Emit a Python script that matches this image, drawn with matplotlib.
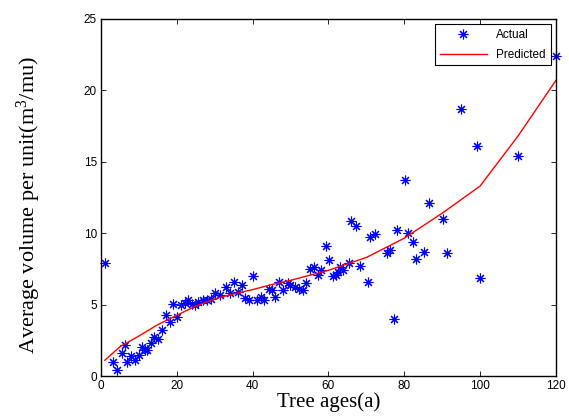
import numpy as np
import matplotlib
matplotlib.use("Agg")
import matplotlib.pyplot as plt

plt.rcParams["mathtext.fontset"] = "custom"
plt.rcParams["mathtext.rm"] = "Liberation Serif"
plt.rcParams["mathtext.default"] = "rm"

ages = [1.0, 3.1, 4.1, 5.5, 6.2, 6.9, 7.8, 9.0, 10.1, 10.7, 11.6, 12.2, 13.2, 14.1,
        15.1, 16.0, 17.2, 18.2, 19.1, 20.1, 21.0, 22.2, 23.0, 23.9, 24.8, 25.7,
        26.8, 27.9, 28.9, 30.1, 31.4, 33.0, 33.9, 35.1, 36.2, 37.1, 38.0, 39.1,
        40.0, 41.1, 42.2, 43.0, 44.4, 45.0, 45.9, 47.0, 47.9, 49.2, 49.9, 51.2,
        52.3, 53.2, 54.1, 55.2, 56.1, 57.3, 58.0, 59.3, 60.2, 61.1, 62.0, 62.6,
        63.1, 63.9, 65.3, 65.9, 67.3, 68.2, 70.3, 71.0, 72.3, 75.4, 76.3, 77.3,
        78.0, 80.2, 80.9, 82.2, 83.1, 85.2, 86.4, 90.1, 91.2, 95.0, 99.1, 100.0,
        110.1, 120.0]
volume = [7.9, 1.0, 0.45, 1.6, 2.2, 1.0, 1.4, 1.1, 1.5, 2.0, 1.8, 1.85, 2.3, 2.75,
          2.6, 3.2, 4.25, 3.8, 5.05, 4.15, 5.0, 5.1, 5.3, 5.05, 4.95, 5.2,
          5.3, 5.3, 5.4, 5.8, 5.7, 6.2, 5.8, 6.6, 5.9, 6.35, 5.45, 5.35,
          7.0, 5.3, 5.5, 5.35, 6.1, 6.0, 5.5, 6.6, 6.0, 6.5, 6.35, 6.2,
          6.1, 6.0, 6.5, 7.5, 7.6, 7.1, 7.45, 9.1, 8.15, 7.0, 7.05, 7.3,
          7.6, 7.45, 7.9, 10.85, 10.5, 7.7, 6.6, 9.75, 9.95, 8.6, 8.85, 4.0,
          10.2, 13.75, 10.0, 9.4, 8.2, 8.65, 12.1, 11.0, 8.6, 18.7, 16.1, 6.85,
          15.4, 22.4]

# model prediction
pred_ages = [1, 5, 10, 15, 20, 25, 30, 35, 40, 45, 50, 60, 70, 80, 90, 100, 110, 120]
pred_vol = [1.1, 2.05, 2.8, 3.6, 4.25, 4.9, 5.4, 5.75, 6.05, 6.4, 6.7, 7.4, 8.3,
            9.65, 11.4, 13.3, 16.8, 20.7]

fig = plt.figure(figsize=(5.69, 4.19), dpi=100)
ax = fig.add_axes([0.1775, 0.1026, 0.7995, 0.8521])

ax.plot(ages, volume, linestyle="none", marker=(8, 2, 0), color="blue",
        markersize=7, markeredgewidth=0.8, label="Actual", clip_on=False)
ax.plot(pred_ages, pred_vol, color="red", linewidth=1, label="Predicted")

ax.set_xlim(0, 120)
ax.set_ylim(0, 25)
ax.set_xticks(np.arange(0, 121, 20))
ax.set_yticks(np.arange(0, 26, 5))
ax.tick_params(direction="in", length=3.5, width=0.6, top=True, right=True,
               labelsize=8.5, pad=3)
for lab in ax.get_xticklabels() + ax.get_yticklabels():
    lab.set_family("Liberation Sans")
for sp in ax.spines.values():
    sp.set_linewidth(1.0)

ax.set_xlabel("Tree ages(a)", family="Liberation Serif", fontsize=15, labelpad=0)
ax.set_ylabel(r"Average volume per unit(m$^3$/mu)", family="Liberation Serif",
              fontsize=16)
ax.yaxis.set_label_coords(-0.128, 0.478)

leg = ax.legend(loc="upper right", prop={"family": "Liberation Sans", "size": 8.5},
                fancybox=False, edgecolor="black", framealpha=1,
                borderaxespad=0.45, handlelength=4.0, labelspacing=0.65)
leg.get_frame().set_linewidth(0.8)

fig.savefig("out.png", dpi=100)
